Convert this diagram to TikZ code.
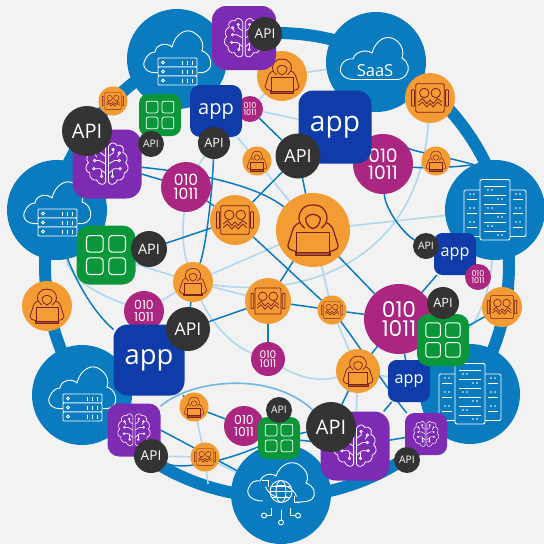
\documentclass[tikz,border=0pt]{standalone}
\usepackage{fontspec}
\setmainfont{Open Sans}
\newfontfamily\binfont{Poppins}
\usetikzlibrary{backgrounds}
\definecolor{cBlue}{HTML}{0A7BBE}
\definecolor{cPurple}{HTML}{7E2BB4}
\definecolor{cGreen}{HTML}{0A9639}
\definecolor{cApp}{HTML}{0F3CA8}
\definecolor{cMag}{HTML}{AA2680}
\definecolor{cDark}{HTML}{333333}
\definecolor{cOrange}{HTML}{F39C33}
\definecolor{cRed}{HTML}{7A1F1F}
\definecolor{cLite}{HTML}{B3D7EA}
\definecolor{cMid}{HTML}{72B5DD}
\definecolor{cBack}{HTML}{F2F2F2}
\tikzset{
    disc/.style={circle, inner sep=0pt, outer sep=0pt, text=white},
    tile/.style={rectangle, inner sep=0pt, outer sep=0pt, text=white},
    link/.style={draw=cBlue, line width=1.5pt},
    lite/.style={draw=cLite, line width=1.6pt},
    midlink/.style={draw=cMid, line width=1.6pt}
}
% name, centre, radius
\newcommand\apibox[3]{
    \pgfmathsetmacro\fs{0.8*#3}
    \node[disc, fill=cDark, minimum size={2*#3 pt}, font=\fontsize{\fs}{\fs}\selectfont] (#1) at (#2) {API};
}
\newcommand\binbox[3]{
    \pgfmathsetmacro\fs{0.62*#3}
    \pgfmathsetmacro\fb{0.56*#3}
    \node[disc, fill=cMag, minimum size={2*#3 pt}, align=center, font=\binfont\fontsize{\fs}{\fb}\selectfont] (#1) at (#2) {010\\1011};
}
\newcommand\appbox[3]{
    \pgfmathsetmacro\fs{0.385*#3}
    \pgfmathsetmacro\rc{0.2*#3}
    \node[tile, fill=cApp, minimum size={#3 pt}, rounded corners=\rc pt, font=\fontsize{\fs}{\fs}\selectfont] (#1) at (#2) {app};
}
\newcommand\gridbox[3]{
    \pgfmathsetmacro\rc{0.22*#3}
    \node[tile, fill=cGreen, minimum size={#3 pt}, rounded corners=\rc pt] (#1) at (#2) {};
    \begin{scope}[shift={(#2)}, scale=#3/2, draw=white, line width=#3*0.018pt]
        \foreach \i in {-0.66,0.1}
            \foreach \j in {-0.66,0.1}
                \draw[rounded corners=#3*0.05pt] (\i,\j) rectangle ({\i+0.56},{\j+0.56});
    \end{scope}
}
\newcommand\brainbox[3]{
    \pgfmathsetmacro\rc{0.22*#3}
    \node[tile, fill=cPurple, minimum size={#3 pt}, rounded corners=\rc pt] (#1) at (#2) {};
    \begin{scope}[shift={(#2)}, scale=#3/2, draw=white, line width=#3*0.011pt]
        \foreach \s in {1,-1}
        {
            \begin{scope}[xscale=\s]
                \draw (0.04,-0.5) .. controls (0.08,-0.62) and (0.24,-0.66) .. (0.28,-0.54)
                    .. controls (0.42,-0.58) and (0.52,-0.46) .. (0.46,-0.34)
                    .. controls (0.6,-0.28) and (0.62,-0.12) .. (0.54,-0.04)
                    .. controls (0.66,0.06) and (0.62,0.24) .. (0.5,0.26)
                    .. controls (0.52,0.4) and (0.4,0.5) .. (0.3,0.46)
                    .. controls (0.26,0.6) and (0.08,0.64) .. (0.04,0.52) -- cycle;
                \draw (0.04,-0.22) -- (0.18,-0.32) -- (0.18,-0.42);
                \draw (0.04,0.0) -- (0.22,-0.1) -- (0.36,-0.1);
                \draw (0.04,0.28) -- (0.2,0.14) -- (0.38,0.14);
                \draw (0.16,0.2) -- (0.16,0.36);
                \draw (0.36,-0.32) -- (0.3,-0.2);
                \foreach \p in {(0.18,-0.42),(0.36,-0.1),(0.38,0.14),(0.16,0.36),(0.36,-0.32)}
                    \draw[fill=cPurple] \p circle (0.035);
            \end{scope}
        }
    \end{scope}
}
\newcommand\hackbox[3]{
    \node[disc, fill=cOrange, minimum size={2*#3 pt}] (#1) at (#2) {};
    \begin{scope}[shift={(#2)}, scale=#3, draw=cRed, line width=#3*0.032pt, line join=round]
        \draw (-0.22,-0.05) .. controls (-0.42,-0.2) and (-0.42,-0.4) .. (-0.3,-0.55)
            .. controls (-0.2,-0.72) and (0.2,-0.72) .. (0.3,-0.55)
            .. controls (0.42,-0.4) and (0.42,-0.2) .. (0.22,-0.05);
        \draw (-0.2,-0.32) .. controls (-0.1,-0.46) and (0.1,-0.46) .. (0.2,-0.32)
            .. controls (0.2,-0.16) and (0.1,-0.06) .. (0,-0.04)
            .. controls (-0.1,-0.06) and (-0.2,-0.16) .. (-0.2,-0.32) -- cycle;
        \draw (-0.36,-0.2) .. controls (-0.5,-0.14) and (-0.54,-0.06) .. (-0.58,0.1)
            -- (-0.68,0.42) .. controls (-0.68,0.5) and (-0.6,0.56) .. (-0.44,0.58);
        \draw (0.36,-0.2) .. controls (0.5,-0.14) and (0.54,-0.06) .. (0.58,0.1)
            -- (0.68,0.42) .. controls (0.68,0.5) and (0.6,0.56) .. (0.44,0.58);
        \draw (-0.44,0.06) rectangle (0.44,0.6);
        \draw[fill=cRed!60!cOrange] (-0.46,0.6) rectangle (0.46,0.68);
    \end{scope}
}
\newcommand\artbox[3]{
    \node[disc, fill=cOrange, minimum size={2*#3 pt}] (#1) at (#2) {};
    \begin{scope}[shift={(#2)}, scale=#3, draw=cRed, line width=#3*0.032pt, line join=round]
        \draw[rounded corners=#3*0.05pt] (-0.57,-0.57) rectangle (0.57,0.57);
        \draw[rounded corners=#3*0.03pt] (-0.74,-0.33) rectangle (-0.62,0.33);
        \draw[rounded corners=#3*0.03pt] (0.62,-0.33) rectangle (0.74,0.33);
        \draw (-0.23,-0.2) circle (0.19);
        \draw (0.23,-0.2) circle (0.19);
        \draw (-0.47,0.16) -- (-0.3,0.02) -- (-0.13,0.22) -- (0,0.08) -- (0.13,0.22) -- (0.3,0.02) -- (0.47,0.16);
        \draw (-0.47,0.3) -- (-0.3,0.16) -- (-0.13,0.36) -- (0,0.22) -- (0.13,0.36) -- (0.3,0.16) -- (0.47,0.3);
    \end{scope}
}
% cloud with a server under it, all clouds have radius 50
\newcommand\cloudbox[2]{
    \node[disc, fill=cBlue, minimum size=100pt] (#1) at (#2) {};
    \begin{scope}[shift={(#2)}, scale=50, draw=white, line width=0.9pt]
        \draw (-0.38,0.27) .. controls (-0.6,0.3) and (-0.72,0.15) .. (-0.64,0.02)
            .. controls (-0.6,-0.08) and (-0.52,-0.14) .. (-0.44,-0.14)
            .. controls (-0.42,-0.3) and (-0.2,-0.34) .. (-0.1,-0.24)
            .. controls (-0.04,-0.5) and (0.2,-0.66) .. (0.38,-0.5)
            .. controls (0.52,-0.4) and (0.54,-0.26) .. (0.5,-0.16)
            .. controls (0.66,-0.12) and (0.72,0.1) .. (0.64,0.2)
            .. controls (0.58,0.27) and (0.5,0.28) .. (0.42,0.27);
        \foreach \j in {-0.02,0.16,0.34}
        {
            \draw[rounded corners=1pt, fill=cBlue] (-0.38,\j) rectangle (0.4,{\j+0.18});
            \draw ({-0.28},{\j+0.09}) circle (0.03);
            \foreach \i in {0.1,0.2,0.3}
                \draw (\i,{\j+0.05}) -- (\i,{\j+0.13});
        }
    \end{scope}
}
\newcommand\rackbox[2]{
    \node[disc, fill=cBlue, minimum size=100pt] (#1) at (#2) {};
    \begin{scope}[shift={(#2)}, scale=50, draw=white, line width=0.9pt]
        \foreach \s in {1,-1}
        {
            \draw[rounded corners=1.5pt] ({\s*0.3},-0.4) -- ({\s*0.62},-0.4) -- ({\s*0.62},0.53) -- ({\s*0.3},0.53);
            \foreach \j in {-0.22,0.06,0.34}
                \draw ({\s*0.36},\j) -- ({\s*0.56},\j);
            \foreach \j in {-0.32,-0.04,0.24}
                \fill[white] ({\s*0.42},\j) circle (0.018) ({\s*0.5},\j) circle (0.018);
        }
        \draw[rounded corners=2pt] (-0.3,-0.61) rectangle (0.3,0.6);
        \foreach \j in {-0.48,-0.3,-0.12,0.06,0.24,0.42}
        {
            \draw (-0.22,\j) -- (0.22,\j);
        }
        \foreach \j in {-0.4,-0.04,0.32}
            \fill[white] (-0.14,\j) circle (0.018) (-0.06,\j) circle (0.018);
        \foreach \j in {-0.22,0.14,0.5}
            \fill[white] (0.06,\j) circle (0.018) (0.14,\j) circle (0.018);
    \end{scope}
}
\newcommand\saasbox[2]{
    \node[disc, fill=cBlue, minimum size=100pt] (#1) at (#2) {};
    \begin{scope}[shift={(#2)}, scale=50, draw=white, line width=0.9pt]
        \draw (-0.45,0.35) .. controls (-0.66,0.35) and (-0.76,0.18) .. (-0.7,0.08)
            .. controls (-0.66,-0.02) and (-0.56,-0.08) .. (-0.46,-0.06)
            .. controls (-0.42,-0.22) and (-0.18,-0.26) .. (-0.08,-0.18)
            .. controls (0,-0.46) and (0.24,-0.58) .. (0.42,-0.42)
            .. controls (0.54,-0.32) and (0.56,-0.18) .. (0.52,-0.08)
            .. controls (0.66,0) and (0.68,0.16) .. (0.6,0.26)
            .. controls (0.54,0.33) and (0.48,0.35) .. (0.4,0.35) -- cycle;
        \node[text=white, font=\fontsize{16.5}{16.5}\selectfont] (#1text) at (-0.02,0.36/2) {SaaS};
    \end{scope}
}
\newcommand\globebox[2]{
    \node[disc, fill=cBlue, minimum size=100pt] (#1) at (#2) {};
    \begin{scope}[shift={(#2)}, scale=50, draw=white, line width=0.9pt]
        \draw (-0.36,0.14) .. controls (-0.6,0.14) and (-0.72,0 ) .. (-0.64,-0.14)
            .. controls (-0.6,-0.24) and (-0.52,-0.28) .. (-0.42,-0.26)
            .. controls (-0.38,-0.38) and (-0.22,-0.44) .. (-0.1,-0.36)
            .. controls (-0.02,-0.6) and (0.24,-0.72) .. (0.42,-0.54)
            .. controls (0.54,-0.44) and (0.56,-0.3) .. (0.5,-0.22)
            .. controls (0.66,-0.16) and (0.72,0) .. (0.62,0.1)
            .. controls (0.56,0.15) and (0.48,0.16) .. (0.3,0.16);
        \draw (0,-0.05) circle (0.22);
        \draw (0,-0.05) ellipse (0.1 and 0.22);
        \draw (-0.22,-0.05) -- (0.22,-0.05) (-0.18,-0.16) -- (0.18,-0.16) (-0.18,0.06) -- (0.18,0.06);
        \draw (-0.31,-0.15) arc[start angle=160, end angle=70, radius=0.34];
        \draw (0.31,0.05) arc[start angle=-20, end angle=-110, radius=0.34];
        \draw (-0.38,-0.27) -- (-0.26,-0.27) -- (-0.26,-0.14);
        \draw (0.38,0.17) -- (0.26,0.17) -- (0.26,0.04);
        \draw (-0.19,0.27) -- (-0.19,0.43) -- (-0.3,0.43);
        \draw (0.19,0.27) -- (0.19,0.43) -- (0.3,0.43);
        \draw (0,0.31) -- (0,0.52);
        \draw (-0.34,0.43) circle (0.05) (0.34,0.43) circle (0.05) (0,0.57) circle (0.05);
    \end{scope}
}

\begin{document}
\begin{tikzpicture}[x=1pt, y=-1pt]
    \useasboundingbox (0,0) rectangle (544,544);

    % clouds and servers
    \cloudbox{cloudA}{177,59}
    \cloudbox{cloudB}{57,210}
    \cloudbox{cloudC}{82,395}
    \globebox{cloudD}{281,494}
    \saasbox{saas}{376,62}
    \rackbox{rackA}{495,210}
    \rackbox{rackB}{470,394}

    % orange ones
    \hackbox{hackA}{282,76}{25}
    \hackbox{hackB}{257,161}{14.5}
    \hackbox{hackC}{436,161}{14.5}
    \hackbox{hackD}{313,230}{37}
    \hackbox{hackE}{193,282}{20}
    \hackbox{hackF}{47,306}{25}
    \hackbox{hackG}{358,371}{22}
    \hackbox{hackH}{194,407}{14.5}
    \artbox{artA}{113,101}{14.5}
    \artbox{artB}{235,220}{25}
    \artbox{artC}{430,98}{25}
    \artbox{artD}{268,301}{23}
    \artbox{artE}{332,310}{14.5}
    \artbox{artF}{502,307}{20}
    \artbox{artG}{205,457}{14.5}

    % binary
    \binbox{binA}{250,109}{13}
    \binbox{binB}{186,187}{25}
    \binbox{binC}{383,164}{30}
    \binbox{binE}{144,311}{20}
    \binbox{binF}{268,359}{17}
    \binbox{binG}{244,426}{20}
    \binbox{binH}{399,319}{35}

    % squares
    \brainbox{brainA}{244,38}{64}
    \brainbox{brainB}{107,164}{69}
    \brainbox{brainC}{134,430}{53}
    \brainbox{brainD}{355,446}{69}
    \brainbox{brainE}{426,434}{42}
    \appbox{appA}{216,111}{52}
    \appbox{appB}{335,127}{73}
    \appbox{appC}{455,254}{42}
    \appbox{appD}{149,360}{71}
    \appbox{appE}{409,381}{42}
    \gridbox{gridA}{160,115}{42}
    \gridbox{gridB}{106,255}{59}
    \gridbox{gridC}{443,340}{52}
    \gridbox{gridD}{279,438}{42}
    \binbox{binD}{478,277}{13}

    % api
    \apibox{apiA}{265,34}{17}
    \apibox{apiB}{87,131}{25}
    \apibox{apiC}{151,144}{13}
    \apibox{apiD}{214,143}{16}
    \apibox{apiE}{149,249}{18}
    \apibox{apiF}{298,156}{22.5}
    \apibox{apiG}{426,246}{13}
    \apibox{apiH}{188,329}{22}
    \apibox{apiI}{151,456}{17}
    \apibox{apiJ}{279,410}{13}
    \apibox{apiK}{331,427}{25}
    \apibox{apiL}{443,303}{16}
    \apibox{apiM}{407,460}{13}

    \begin{scope}[on background layer]
        \fill[cBack] (0,0) rectangle (544,544);
        \node[circle, draw=cBlue, line width=12pt, minimum size=464pt] (ring) at (277,265) {};
        \coordinate (ringS) at (208,484);

        % light links
        \draw[lite] (hackA) -- (saas);
        \draw[lite] (hackA) -- (binA);
        \draw[lite] (binA) -- (appB);
        \draw[lite] (appA) -- (hackD);
        \draw[lite] (apiD) .. controls (180,190) and (180,240) .. (hackE);
        \draw[lite] (hackD) -- (rackA);
        \draw[lite] (artC) .. controls (420,250) and (320,300) .. (hackE);
        \draw[lite] (hackD) -- (hackE);
        \draw[lite] (gridB) -- (hackE);
        \draw[lite] (hackE) -- (binE);
        \draw[lite] (hackE) -- (artD);
        \draw[lite] (hackE) .. controls (210,320) and (230,345) .. (binF);
        \draw[lite] (hackD) -- (artE);
        \draw[lite] (artE) -- (hackG);
        \draw[lite] (hackH) -- (artG);
        \draw[lite] (artG) -- (cloudD);
        \draw[lite] (artG) -- (ringS);
        \draw[lite] (apiI) -- (artG);
        \draw[lite] (hackG) -- (brainD);
        \draw[lite] (hackG) -- (appE);
        \draw[lite] (binF) .. controls (300,378) and (320,382) .. (hackG);
        \draw[lite] (gridC) .. controls (475,325) and (490,295) .. (rackA);
        \draw[lite] (appD) -- (cloudC);
        \draw[lite] (appD) -- (hackH);
        \draw[lite] (cloudB) .. controls (70,280) and (100,295) .. (binE);
        \draw[midlink] (brainC) .. controls (190,380) and (270,370) .. (apiK);

        % dark links
        \draw[link] (binA) -- (apiF);
        \draw[link] (brainB) .. controls (170,170) and (250,180) .. (hackD);
        \draw[link] (brainB) -- (binB);
        \draw[link] (binB) -- (artB);
        \draw[link] (apiC) -- (brainB);
        \draw[link] (apiD) .. controls (212,200) and (205,250) .. (hackE);
        \draw[link] (apiE) -- (artB);
        \draw[link] (artB) -- (apiF);
        \draw[link] (artB) -- (artE);
        \draw[link] (apiF) -- (hackD);
        \draw[link] (hackD) -- (binH);
        \draw[link] (hackD) -- (artD);
        \draw[link] (binC) .. controls (385,210) and (405,235) .. (apiG);
        \draw[link] (binC) .. controls (400,150) and (440,155) .. (rackA.115);
        \draw[link] (binC) .. controls (420,168) and (450,168) .. (rackA.115);
        \draw[link] (apiH) -- (artD);
        \draw[link] (apiH) -- (hackE);
        \draw[link] (artD) -- (binF);
        \draw[link] (artD) -- (artE);
        \draw[link] (artE) -- (binH);
        \draw[link] (hackG) -- (binH);
        \draw[link] (hackG) -- (apiK);
        \draw[link] (artE) .. controls (355,340) and (395,400) .. (brainE);
        \draw[link] (brainD) -- (appE);
        \draw[link] (brainD) -- (brainE);
        \draw[link] (gridD) -- (apiK);
        \draw[link] (gridD) -- (brainD);
        \draw[link] (binH) -- (appC);
        \draw[link] (binH) -- (appE);
        \draw[link] (gridC) -- (artF);
        \draw[link] (cloudB) .. controls (68,260) and (85,305) .. (appD);
        \draw[link] (hackH) -- (appD);
        \draw[link] (hackH) -- (binG);
        \draw[link] (brainC.east) -- (cloudD);
        \draw[link] (apiI) .. controls (180,470) and (220,463) .. (gridD);
    \end{scope}
\end{tikzpicture}
\end{document}
